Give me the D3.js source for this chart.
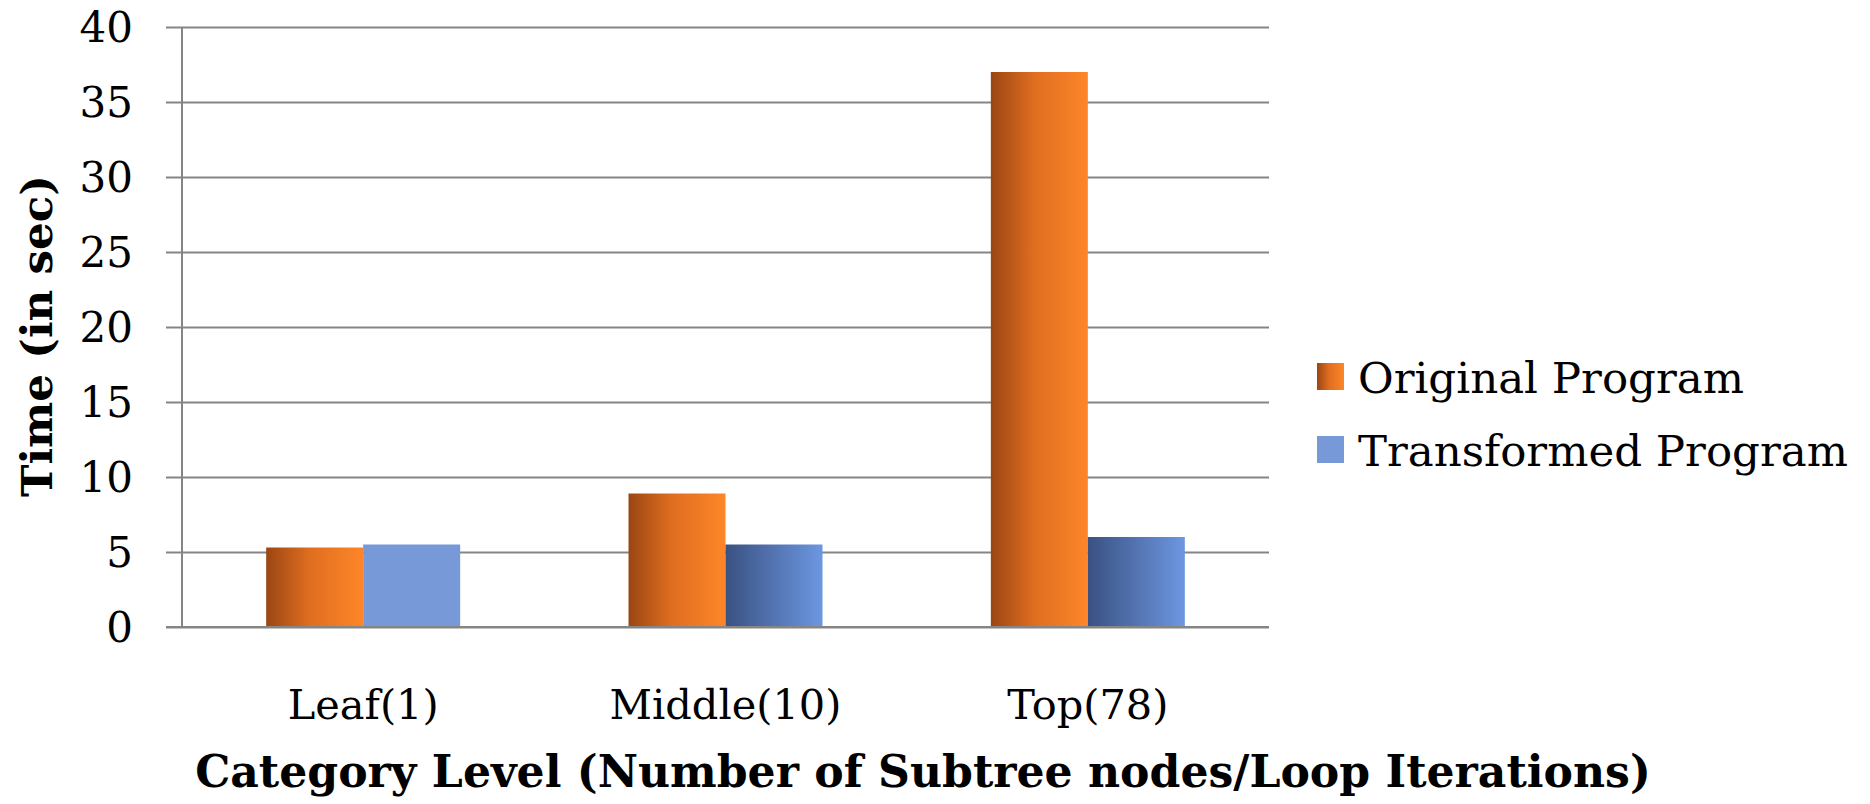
<!DOCTYPE html>
<html>
<head>
<meta charset="utf-8">
<script src="https://cdn.jsdelivr.net/npm/d3@7"></script>
<style>
  html, body { margin: 0; padding: 0; background: #ffffff; }
  svg { display: block; }
  text { font-family: "DejaVu Serif", "Liberation Serif", serif; fill: #000; }
</style>
</head>
<body>
<svg id="chart" width="1870" height="804"></svg>
<script>
// ---- data ----
const categories = ["Leaf(1)", "Middle(10)", "Top(78)"];
const seriesNames = ["Original Program", "Transformed Program"];
const originalValues = [5.3, 8.9, 37];
const transformedValues = [5.5, 5.5, 6];
const yTicks = [0, 5, 10, 15, 20, 25, 30, 35, 40];
const yTitle = "Time (in sec)";
const xTitle = "Category Level (Number of Subtree nodes/Loop Iterations)";

// ---- layout ----
const svg = d3.select("#chart");
const plot = { left: 182, right: 1269, top: 27, bottom: 627 };

const defs = svg.append("defs");
function hGrad(id, stops) {
  const g = defs.append("linearGradient").attr("id", id)
    .attr("x1", "0%").attr("x2", "100%").attr("y1", "0%").attr("y2", "0%");
  stops.forEach(s => g.append("stop").attr("offset", s[0]).attr("stop-color", s[1]));
}
hGrad("gOrange", [["0%", "#9a4613"], ["45%", "#e06e20"], ["100%", "#fe8629"]]);
hGrad("gBlue", [["0%", "#3a5182"], ["100%", "#6c97e1"]]);
const flatBlue = "#7799d7";

const y = d3.scaleLinear().domain([0, 40]).range([plot.bottom, plot.top]);
const x0 = d3.scaleBand().domain(categories).range([plot.left, plot.right]).padding(0);
const x1 = d3.scaleBand().domain(seriesNames).range([0, x0.bandwidth()])
  .paddingInner(0).paddingOuter(0.8677);

// gridlines with tick marks (extend left of axis)
const yAxis = d3.axisLeft(y).tickValues(yTicks)
  .tickSize(-(plot.right - plot.left)).tickSizeOuter(0).tickFormat("");
const gy = svg.append("g").attr("transform", `translate(${plot.left},0)`).call(yAxis);
gy.select(".domain").remove();
gy.selectAll(".tick line").attr("x1", -16).attr("stroke", "#858585").attr("stroke-width", 2);

// tick labels
svg.append("g").selectAll("text").data(yTicks).join("text")
  .attr("x", 133).attr("y", d => y(d)).attr("dy", "0.36em")
  .attr("text-anchor", "end").attr("font-size", 42).text(d => d);

// vertical axis line
svg.append("line").attr("x1", plot.left).attr("x2", plot.left)
  .attr("y1", y(40)).attr("y2", y(0)).attr("stroke", "#858585").attr("stroke-width", 2);

// bars
const rows = categories.map((c, i) => ({ cat: c, i, vals: [originalValues[i], transformedValues[i]] }));
const groups = svg.append("g").selectAll("g").data(rows).join("g")
  .attr("transform", d => `translate(${x0(d.cat)},0)`);
groups.selectAll("rect").data(d => d.vals.map((v, k) => ({ v, k, i: d.i }))).join("rect")
  .attr("x", d => x1(seriesNames[d.k]))
  .attr("width", x1.bandwidth())
  .attr("y", d => y(d.v))
  .attr("height", d => y(0) - y(d.v))
  .attr("fill", d => d.k === 0 ? "url(#gOrange)" : (d.i === 0 ? flatBlue : "url(#gBlue)"));

// bottom axis line over bars
svg.append("line").attr("x1", plot.left - 16).attr("x2", plot.right)
  .attr("y1", y(0)).attr("y2", y(0)).attr("stroke", "#858585").attr("stroke-width", 2);

// category labels
svg.append("g").selectAll("text").data(categories).join("text")
  .attr("x", d => x0(d) + x0.bandwidth() / 2).attr("y", 719)
  .attr("text-anchor", "middle").attr("font-size", 41.5).text(d => d);

// helper to fit text width
function fit(sel, target) {
  const w = sel.node().getComputedTextLength();
  const fs = parseFloat(sel.attr("font-size"));
  sel.attr("font-size", fs * target / w);
}

// x title
const xt = svg.append("text").attr("x", 923).attr("y", 787)
  .attr("text-anchor", "middle").attr("font-weight", "bold").attr("font-size", 36).text(xTitle);
fit(xt, 1456);

// y title
const yt = svg.append("text").attr("transform", "translate(52,336) rotate(-90)")
  .attr("text-anchor", "middle").attr("font-weight", "bold").attr("font-size", 36).text(yTitle);
fit(yt, 322);

// legend
const legend = svg.append("g").selectAll("g").data(seriesNames).join("g")
  .attr("transform", (d, i) => `translate(1317,${363 + i * 73})`);
legend.append("rect").attr("width", 27).attr("height", 27)
  .attr("fill", (d, i) => i === 0 ? "url(#gOrange)" : flatBlue);
legend.append("text").attr("x", 41).attr("y", 30).attr("font-size", 43.5).text(d => d);
</script>
</body>
</html>
